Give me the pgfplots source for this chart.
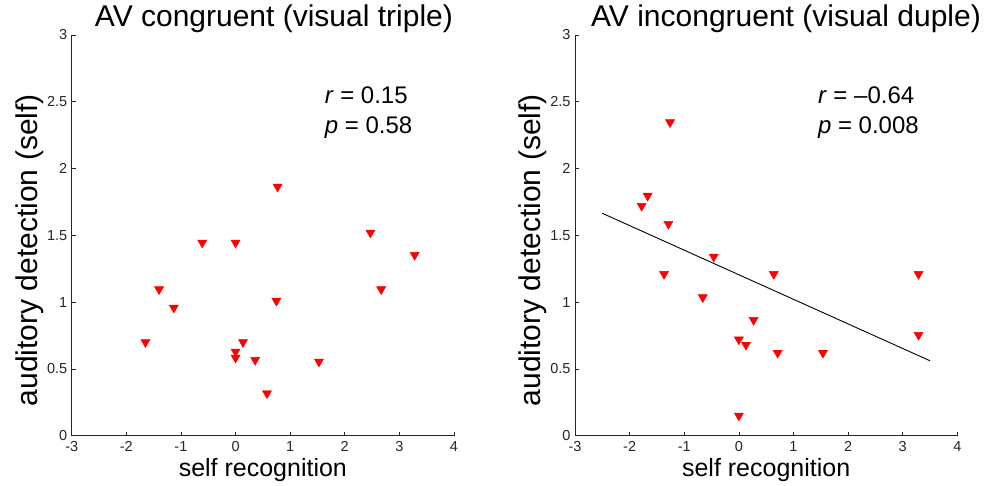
\documentclass[border=0pt]{standalone}
\usepackage{pgfplots}
\pgfplotsset{compat=1.18}
\usepackage{fontspec}
\setmainfont{Liberation Sans}
\begin{document}
\begin{tikzpicture}
\useasboundingbox (-71.7pt,-50.3pt) rectangle (920.3pt,435.7pt);
\pgfplotsset{
  myax/.style={
    scale only axis,
    width=382.3pt, height=400.7pt,
    xmin=-3, xmax=4, ymin=0, ymax=3,
    axis x line=bottom, axis y line=left,
    axis line style={-, line width=0.8pt, black!85},
    tick align=inside,
    major tick length=4pt,
    tick style={line width=0.7pt, black!85},
    xtick={-3,-2,-1,0,1,2,3,4},
    xticklabels={-3,-2,-1,0,1,2,3,4},
    ytick={0,0.5,1,1.5,2,2.5,3},
    yticklabels={0,0.5,1,1.5,2,2.5,3},
    tick label style={font=\fontsize{14.5}{16}\selectfont, text=black!85},
    xticklabel style={yshift=-2pt},
    yticklabel style={xshift=-1pt},
    xlabel={self recognition},
    ylabel={auditory detection (self)},
    xlabel style={at={(axis description cs:0.5,0)}, anchor=base, yshift=-41pt, font=\fontsize{25}{28}\selectfont},
    ylabel style={at={(axis description cs:-0.089,0.463)}, anchor=base, font=\fontsize{30}{34}\selectfont},
    clip=false,
  },
  mk/.style={only marks, mark=triangle*, mark size=5.3pt, color=red, fill=red,
    mark options={rotate=180, fill=red, draw=red}},
}
\begin{axis}[myax, at={(0,0)},
  title={AV congruent (visual triple)},
  title style={at={(axis description cs:0.529,1)}, anchor=base, yshift=2pt, font=\fontsize{30}{34}\selectfont}]
\addplot[mk] coordinates {
(-1.65,0.70) (-1.40,1.096) (-1.13,0.958) (-0.61,1.445) (0,1.445)
(0,0.629) (0,0.584) (0.137,0.70) (0.36,0.567) (0.576,0.317)
(0.748,1.01) (0.77,1.864) (1.527,0.554) (2.47,1.52) (2.667,1.096) (3.28,1.353)
};
\node[anchor=base west, font=\fontsize{24}{28}\selectfont] at (axis cs:1.57,2.49) {\textit{r} = 0.15};
\node[anchor=base west, font=\fontsize{24}{28}\selectfont] at (axis cs:1.57,2.263) {\textit{p} = 0.58};
\end{axis}
\begin{axis}[myax, at={(503.3pt,0)},
  title={AV incongruent (visual duple)},
  title style={at={(axis description cs:0.552,1)}, anchor=base, yshift=2pt, font=\fontsize{30}{34}\selectfont}]
\addplot[black, line width=0.9pt] coordinates {(-2.5,1.665) (3.5,0.561)};
\addplot[mk] coordinates {
(-1.37,1.21) (-0.46,1.34) (-0.66,1.036) (0.64,1.21) (0.27,0.866)
(0,0.72) (0.13,0.68) (0.71,0.62) (1.54,0.62) (0,0.15)
(3.29,1.21) (3.29,0.754) (-1.26,2.346) (-1.67,1.796) (-1.78,1.72) (-1.29,1.585)
};
\node[anchor=base west, font=\fontsize{24}{28}\selectfont] at (axis cs:1.385,2.49) {\textit{r} = –0.64};
\node[anchor=base west, font=\fontsize{24}{28}\selectfont] at (axis cs:1.385,2.263) {\textit{p} = 0.008};
\end{axis}
\end{tikzpicture}
\end{document}
